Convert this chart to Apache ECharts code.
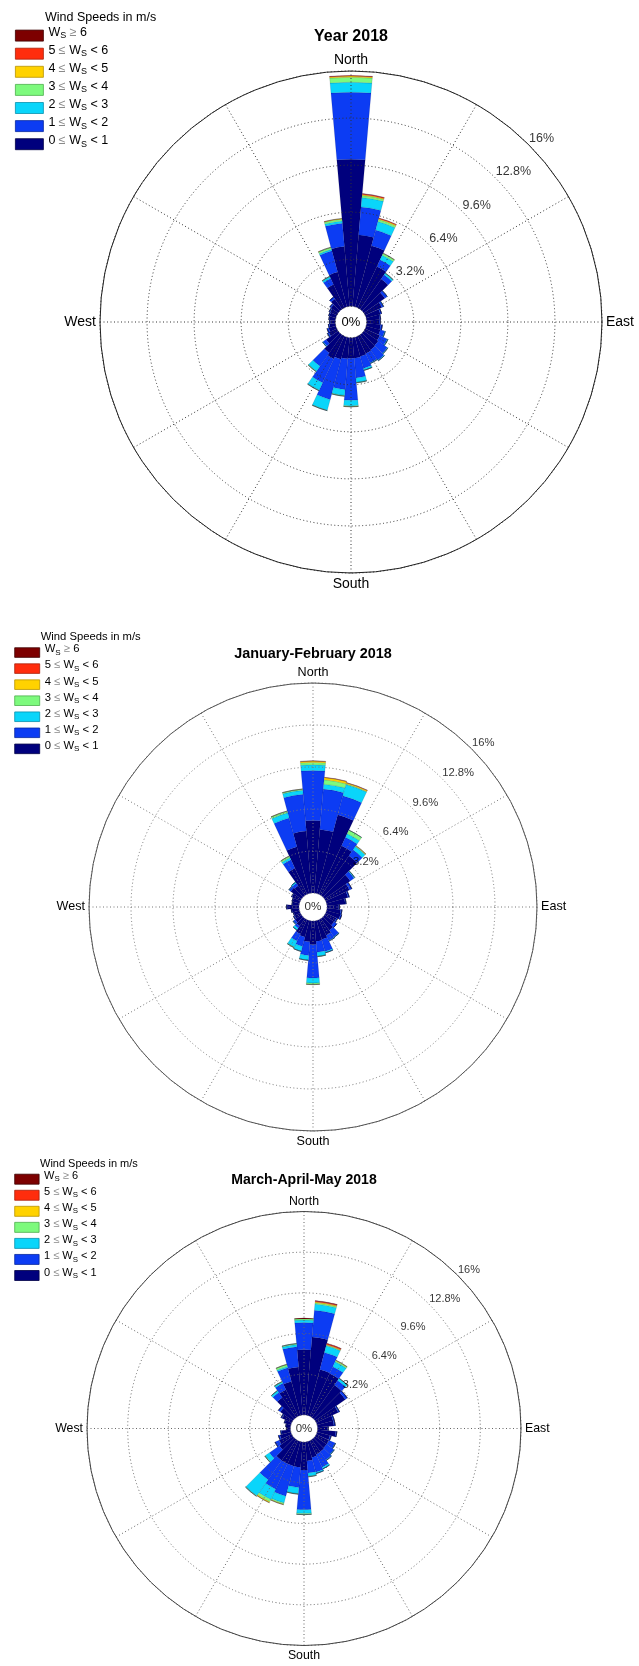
<!DOCTYPE html>
<html>
<head>
<meta charset="utf-8">
<title>Wind roses 2018</title>
<script src="https://cdn.jsdelivr.net/npm/echarts@6/dist/echarts.min.js"></script>
<style>
  html, body { margin: 0; padding: 0; background: #fff; }
  #chart { width: 639px; height: 1666px; }
</style>
</head>
<body>
<div id="chart"></div>
<script>
// Direction bins: 10° wide, centred on North and going clockwise.
const directions = ['0', '10', '20', '30', '40', '50', '60', '70', '80', '90', '100', '110',
  '120', '130', '140', '150', '160', '170', '180', '190', '200', '210', '220', '230',
  '240', '250', '260', '270', '280', '290', '300', '310', '320', '330', '340', '350'];

// Wind speed classes (m/s), innermost first.
const speedClasses = ['0 ≤ WS < 1', '1 ≤ WS < 2', '2 ≤ WS < 3', '3 ≤ WS < 4', '4 ≤ WS < 5', '5 ≤ WS < 6', 'WS ≥ 6'];
const classLow = [0, 1, 2, 3, 4, 5, 6];
const classHigh = [1, 2, 3, 4, 5, 6, null];
const classColors = ['#00007d', '#0c3cf3', '#0ad5fa', '#7dfa7d', '#ffd200', '#ff2d0d', '#7d0000'];
const classEdges = ['#000045', '#08279e', '#0791ad', '#4caf4c', '#b89300', '#a8200a', '#3d0000'];
const legendOrder = [6, 5, 4, 3, 2, 1, 0];

// Radial rings (% of time) and compass labels.
const ringTicks = [3.2, 6.4, 9.6, 12.8, 16];
const compassAngles = [0, 90, 180, 270];
const compassNames = ['North', 'East', 'South', 'West'];

// Frequencies (%) per direction bin — Year 2018.
const year_0_1 = [10.0, 4.88, 4.3, 3.1, 2.5, 1.75, 1.25, 1.0, 0.9, 0.85, 0.95, 1.0, 1.1, 1.2, 1.25, 1.3, 1.35, 1.4, 1.4, 1.45, 1.55, 1.7, 1.5, 1.0, 0.6, 0.5, 0.4, 0.35, 0.4, 0.45, 0.5, 0.6, 0.85, 1.75, 2.45, 4.08];
const year_1_2 = [4.56, 1.91, 1.11, 0.5, 0.35, 0.18, 0.12, 0.09, 0.06, 0.08, 0.12, 0.3, 0.55, 0.75, 0.85, 0.7, 0.85, 1.35, 2.86, 2.1, 2.85, 1.8, 1.1, 0.25, 0.1, 0.12, 0.08, 0.05, 0.05, 0.06, 0.08, 0.1, 0.15, 0.45, 1.5, 1.6];
const year_2_3 = [0.68, 0.64, 0.6, 0.35, 0.12, 0.02, 0.02, 0, 0, 0, 0, 0.05, 0.06, 0.05, 0.06, 0.05, 0.12, 0.3, 0.38, 0.4, 0.75, 0.55, 0.42, 0.05, 0.02, 0, 0, 0, 0, 0, 0, 0, 0, 0.12, 0.1, 0.15];
const year_3_4 = [0.34, 0.13, 0.13, 0.12, 0.03, 0, 0, 0, 0, 0, 0, 0, 0, 0, 0, 0, 0.02, 0.03, 0.05, 0.05, 0.03, 0.04, 0.04, 0, 0, 0, 0, 0, 0, 0, 0, 0, 0, 0.04, 0.12, 0.12];
const year_4_5 = [0.08, 0.07, 0.07, 0.03, 0, 0, 0, 0, 0, 0, 0, 0, 0, 0, 0, 0, 0, 0, 0.01, 0, 0, 0, 0, 0, 0, 0, 0, 0, 0, 0, 0, 0, 0, 0, 0.03, 0.04];
const year_5_6 = [0.03, 0.06, 0.04, 0, 0, 0, 0, 0, 0, 0, 0, 0, 0, 0, 0, 0, 0, 0, 0, 0, 0, 0, 0, 0, 0, 0, 0, 0, 0, 0, 0, 0, 0, 0, 0, 0.01];
const year_6up = [0.01, 0.01, 0, 0, 0, 0, 0, 0, 0, 0, 0, 0, 0, 0, 0, 0, 0, 0, 0, 0, 0, 0, 0, 0, 0, 0, 0, 0, 0, 0, 0, 0, 0, 0, 0, 0];

// January-February 2018.
const janfeb_0_1 = [5.53, 4.87, 6.2, 4.08, 3.7, 2.4, 2.0, 1.7, 1.4, 0.9, 1.05, 1.1, 0.9, 0.9, 1.1, 1.3, 1.5, 1.55, 1.8, 1.6, 1.3, 1.2, 0.7, 0.6, 0.5, 0.45, 0.55, 0.9, 0.5, 0.55, 0.7, 1.0, 0.9, 2.2, 3.68, 4.74];
const janfeb_1_2 = [3.8, 3.08, 1.5, 0.72, 0.55, 0.35, 0.2, 0.1, 0.07, 0.06, 0.1, 0.1, 0.1, 0.25, 0.6, 0.45, 0.95, 0.85, 2.55, 1.05, 0.75, 0.6, 0.2, 0.15, 0.08, 0.05, 0.05, 0.05, 0.05, 0.05, 0.05, 0.15, 0.25, 0.7, 2.28, 2.82];
const janfeb_2_3 = [0.45, 0.38, 0.9, 0.3, 0.3, 0.06, 0, 0, 0, 0, 0, 0, 0, 0, 0.05, 0.05, 0.1, 0.3, 0.38, 0.35, 0.37, 0.5, 0.18, 0.05, 0, 0, 0, 0, 0, 0, 0, 0.04, 0.1, 0.18, 0.4, 0.3];
const janfeb_3_4 = [0.17, 0.33, 0.05, 0.3, 0.05, 0.02, 0, 0, 0, 0, 0, 0, 0, 0, 0, 0, 0, 0.03, 0.1, 0.02, 0.02, 0.05, 0, 0, 0, 0, 0, 0, 0, 0, 0, 0, 0, 0.12, 0.13, 0.08];
const janfeb_4_5 = [0.1, 0.17, 0.08, 0, 0.04, 0, 0, 0, 0, 0, 0, 0, 0, 0, 0, 0, 0, 0, 0.02, 0, 0, 0, 0, 0, 0, 0, 0, 0, 0, 0, 0, 0, 0, 0.02, 0.02, 0.02];
const janfeb_5_6 = [0.02, 0.02, 0.02, 0, 0, 0, 0, 0, 0, 0, 0, 0, 0, 0, 0, 0, 0, 0, 0, 0, 0, 0, 0, 0, 0, 0, 0, 0, 0, 0, 0, 0, 0, 0, 0, 0];
const janfeb_6up = [0, 0, 0, 0, 0, 0, 0, 0, 0, 0, 0, 0, 0, 0, 0, 0, 0, 0, 0, 0, 0, 0, 0, 0, 0, 0, 0, 0, 0, 0, 0, 0, 0, 0, 0, 0];

// March-April-May 2018.
const mam_0_1 = [5.14, 6.16, 3.74, 3.7, 3.1, 2.9, 1.9, 1.3, 1.3, 0.8, 1.45, 1.05, 1.1, 1.1, 1.15, 1.2, 1.3, 1.5, 2.2, 2.0, 2.0, 2.0, 2.0, 1.3, 1.1, 0.9, 0.7, 0.3, 0.35, 0.5, 0.85, 1.2, 1.9, 2.3, 2.77, 3.79];
const mam_1_2 = [2.13, 2.11, 1.39, 0.6, 0.45, 0.2, 0.12, 0.1, 0.1, 0.05, 0.08, 0.1, 0.55, 0.7, 0.8, 1.1, 1.2, 0.95, 3.12, 1.6, 2.45, 2.2, 1.85, 0.95, 0.35, 0.12, 0.08, 0.02, 0.03, 0.05, 0.08, 0.2, 0.5, 0.55, 1.1, 1.59];
const mam_2_3 = [0.2, 0.5, 0.55, 0.42, 0.18, 0, 0, 0, 0, 0, 0, 0, 0.03, 0.05, 0.05, 0.14, 0.1, 0.25, 0.3, 0.48, 0.55, 0.9, 1.55, 0.4, 0, 0, 0, 0, 0, 0, 0, 0, 0.15, 0.12, 0.12, 0.18];
const mam_3_4 = [0.1, 0.1, 0.05, 0.1, 0.03, 0, 0, 0, 0, 0, 0, 0, 0, 0, 0, 0, 0, 0.05, 0.09, 0.04, 0.1, 0.2, 0.05, 0.05, 0, 0, 0, 0, 0, 0, 0, 0, 0.03, 0.04, 0.15, 0.08];
const mam_4_5 = [0.03, 0.07, 0.05, 0.04, 0, 0, 0, 0, 0, 0, 0, 0, 0, 0, 0, 0, 0, 0, 0, 0, 0.04, 0.08, 0, 0, 0, 0, 0, 0, 0, 0, 0, 0, 0, 0, 0.02, 0];
const mam_5_6 = [0, 0.06, 0.07, 0, 0, 0, 0, 0, 0, 0, 0, 0, 0, 0, 0, 0, 0, 0, 0, 0, 0, 0, 0, 0, 0, 0, 0, 0, 0, 0, 0, 0, 0, 0, 0, 0];
const mam_6up = [0, 0.04, 0.03, 0, 0, 0, 0, 0, 0, 0, 0, 0, 0, 0, 0, 0, 0, 0, 0, 0, 0, 0, 0, 0, 0, 0, 0, 0, 0, 0, 0, 0, 0, 0, 0, 0];

const FONT = '"Liberation Sans", Arial, Helvetica, sans-serif';

// Layout of the three stacked roses.
const panels = [
  { title: 'Year 2018', cx: 351, cy: 322, r: 251, s: 1,
    titleTop: 28.4, headLeft: 45, headTop: 10.8,
    legendLeft: 15, legendTop: 25.6, box: [28, 11], lineH: 20, gap: 2.2,
    edge: '#222', grid: '#333', centerColor: '#000',
    values: [year_0_1, year_1_2, year_2_3, year_3_4, year_4_5, year_5_6, year_6up] },
  { title: 'January-February 2018', cx: 313, cy: 907, r: 224, s: 0.9,
    titleTop: 647, headLeft: 40.7, headTop: 631,
    legendLeft: 14.3, legendTop: 643.8, box: [25, 9.6], lineH: 17.5, gap: 2.1,
    edge: '#555', grid: '#777', centerColor: '#333',
    values: [janfeb_0_1, janfeb_1_2, janfeb_2_3, janfeb_3_4, janfeb_4_5, janfeb_5_6, janfeb_6up] },
  { title: 'March-April-May 2018', cx: 304, cy: 1428.5, r: 217, s: 0.88,
    titleTop: 1173, headLeft: 40, headTop: 1158,
    legendLeft: 14.3, legendTop: 1170.7, box: [24.4, 10], lineH: 17, gap: 2.15,
    edge: '#444', grid: '#666', centerColor: '#333',
    values: [mam_0_1, mam_1_2, mam_2_3, mam_3_4, mam_4_5, mam_5_6, mam_6up] }
];

// Legend text with subscript S and light relation signs.
function legendLabel(name) {
  const k = speedClasses.indexOf(name);
  if (classHigh[k] === null) {
    return '{n|W}{s|S}{g| ≥ }{n|' + classLow[k] + '}';
  }
  return '{n|' + classLow[k] + ' }{g|≤}{n| W}{s|S}{n| < ' + classHigh[k] + '}';
}

const polar = [];
const angleAxis = [];
const radiusAxis = [];
const series = [];

panels.forEach((p, i) => {
  const rr = [p.r / 16, p.r];
  // polar 3i: stacked sectors; 3i+1: rings, spokes and ring labels; 3i+2: outer circle and compass names
  polar.push({ center: [p.cx, p.cy], radius: rr });
  polar.push({ center: [p.cx, p.cy], radius: rr });
  polar.push({ center: [p.cx, p.cy], radius: p.r });

  angleAxis.push({
    polarIndex: 3 * i, type: 'category', data: directions,
    startAngle: 95, clockwise: true, boundaryGap: true, z: 1,
    axisLine: { show: false }, axisTick: { show: false },
    axisLabel: { show: false }, splitLine: { show: false }
  });
  angleAxis.push({
    polarIndex: 3 * i + 1, type: 'value', min: 0, max: 360, interval: 30,
    startAngle: 90, clockwise: true, z: 5,
    axisLine: { show: false }, axisTick: { show: false }, axisLabel: { show: false },
    splitLine: { show: true, lineStyle: { color: p.grid, width: 1, type: [1, 2.5] } }
  });
  angleAxis.push({
    polarIndex: 3 * i + 2, type: 'value', min: 0, max: 360, interval: 90,
    startAngle: 90, clockwise: true, z: 6,
    axisLine: { show: true, lineStyle: { color: p.edge, width: 1 } },
    axisTick: { show: false }, splitLine: { show: false },
    axisLabel: {
      show: true, margin: 4, fontFamily: FONT, fontSize: 14 * p.s, color: '#000',
      formatter: (v) => { const j = compassAngles.indexOf(v); return j >= 0 ? compassNames[j] : ''; }
    }
  });

  radiusAxis.push({
    polarIndex: 3 * i, type: 'value', min: 0, max: 16, z: 1,
    axisLine: { show: false }, axisTick: { show: false },
    axisLabel: { show: false }, splitLine: { show: false }
  });
  radiusAxis.push({
    polarIndex: 3 * i + 1, type: 'value', min: 0, max: 16, interval: 3.2, z: 5,
    axisLine: { show: false }, axisTick: { show: false }, axisLabel: { show: false },
    splitLine: {
      show: true, showMinLine: false, showMaxLine: false,
      lineStyle: { color: p.grid, width: 1, type: [1, 2.5] }
    }
  });
  radiusAxis.push({
    polarIndex: 3 * i + 2, type: 'value', min: 0, max: 16, z: 1,
    axisLine: { show: false }, axisTick: { show: false },
    axisLabel: { show: false }, splitLine: { show: false }
  });

  p.values.forEach((vals, k) => {
    series.push({
      type: 'bar', coordinateSystem: 'polar', polarIndex: 3 * i,
      name: speedClasses[k], stack: 'rose' + i, data: vals,
      barCategoryGap: '0%', silent: true, z: 2,
      itemStyle: { color: classColors[k], borderColor: 'rgba(0,0,40,0.3)', borderWidth: 0.4 }
    });
  });

  // ring value labels along the north-east diagonal
  series.push({
    type: 'scatter', coordinateSystem: 'polar', polarIndex: 3 * i + 1,
    data: ringTicks.map((t) => [t, 45]), symbolSize: 1,
    itemStyle: { color: 'rgba(0,0,0,0)' }, silent: true, z: 6,
    label: {
      show: true, position: 'right', distance: 0, offset: [0, -6 * p.s],
      formatter: (d) => d.value[0] + '%',
      fontFamily: FONT, fontSize: 12.5 * p.s, color: '#000'
    }
  });
});

const title = [];
panels.forEach((p) => {
  title.push({
    text: p.title, left: p.cx, top: p.titleTop, textAlign: 'center', padding: 0,
    textStyle: { fontFamily: FONT, fontSize: 16 * p.s, fontWeight: 'bold', color: '#000' }
  });
  title.push({
    text: 'Wind Speeds in m/s', left: p.headLeft, top: p.headTop, padding: 0,
    textStyle: { fontFamily: FONT, fontSize: 12.5 * p.s, fontWeight: 'normal', color: '#000' }
  });
});

const legend = panels.map((p) => ({
  orient: 'vertical', left: p.legendLeft, top: p.legendTop, padding: 0,
  itemWidth: p.box[0], itemHeight: p.box[1], itemGap: p.gap,
  icon: 'rect', selectedMode: false,
  data: legendOrder.map((k) => ({
    name: speedClasses[k],
    itemStyle: { color: classColors[k], borderColor: classEdges[k], borderWidth: 0.8 }
  })),
  formatter: legendLabel,
  textStyle: {
    rich: {
      n: { fontFamily: FONT, fontSize: 12.5 * p.s, color: '#000', lineHeight: p.lineH - 6 * p.s, verticalAlign: 'top' },
      g: { fontFamily: FONT, fontSize: 12.5 * p.s, color: '#8a8a8a', lineHeight: p.lineH - 6 * p.s, verticalAlign: 'top' },
      s: { fontFamily: FONT, fontSize: 9 * p.s, color: '#000', lineHeight: p.lineH, verticalAlign: 'middle' }
    }
  }
}));

const graphic = panels.map((p) => ({
  type: 'text', x: p.cx, y: p.cy, silent: true, z: 10,
  style: {
    text: '0%', fill: p.centerColor, fontFamily: FONT, fontSize: 13 * p.s,
    textAlign: 'center', textVerticalAlign: 'middle', align: 'center', verticalAlign: 'middle'
  }
}));

const chart = echarts.init(document.getElementById('chart'), null, { renderer: 'canvas' });
chart.setOption({
  animation: false,
  backgroundColor: '#fff',
  title, legend, polar, angleAxis, radiusAxis, series, graphic
});
</script>
</body>
</html>
